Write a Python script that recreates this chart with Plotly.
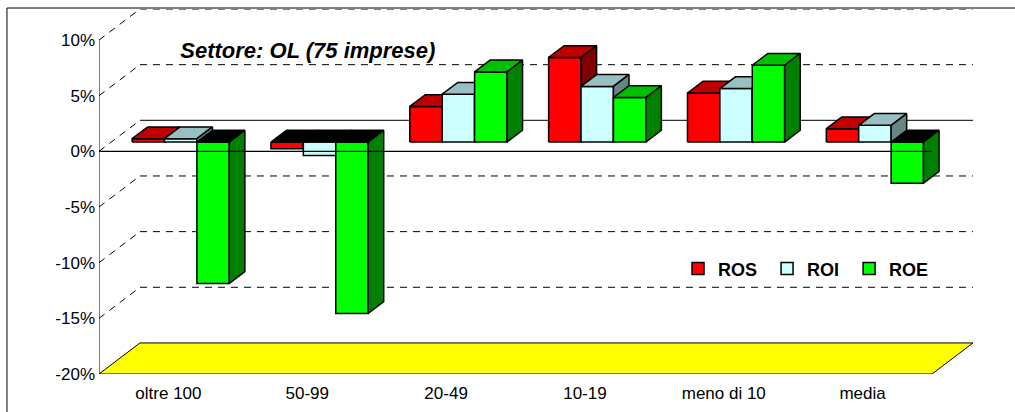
import plotly.graph_objects as go

# Redditività per classe di dimensione
categories = ["oltre 100", "50-99", "20-49", "10-19", "meno di 10", "media"]
ros = [0.3, -0.6, 3.2, 7.6, 4.4, 1.2]
roi = [0.3, -1.2, 4.3, 5.0, 4.8, 1.5]
roe = [-12.7, -15.4, 6.3, 4.0, 6.9, -3.7]
series_names = ["ROS", "ROI", "ROE"]
y_ticks = [-20, -15, -10, -5, 0, 5, 10]
title_text = "Settore: OL (75 imprese)"

series_values = [ros, roi, roe]

# Face colours per series: front, top, right side
FACE_COLORS = [
    ("#FF0000", "#C00000", "#800000"),
    ("#CCFFFF", "#99C0C0", "#668585"),
    ("#00FF00", "#00C000", "#008000"),
]
NEG_TOP = "#000000"

# Oblique projection of the depth axis (x in category units, y in % units)
DX, DY = 0.295, 2.79
F0, FD = 0.30, 0.38          # bar front depth and bar thickness (fraction of depth)
CLUSTER = 0.70
BW = CLUSTER / 3
X_LO, X_HI = -0.5, len(categories) - 0.5
Y_LO, Y_HI = min(y_ticks), max(y_ticks)
FONT = "Arial, Liberation Sans, sans-serif"

fig = go.Figure()


def poly(points, fill, width=1.5):
    xs = [p[0] for p in points] + [points[0][0]]
    ys = [p[1] for p in points] + [points[0][1]]
    fig.add_trace(go.Scatter(
        x=xs, y=ys, mode="lines", fill="toself", fillcolor=fill,
        line=dict(color="black", width=width), hoverinfo="skip",
        showlegend=False))


# Floor of the 3D box
poly([(X_LO, Y_LO), (X_HI, Y_LO), (X_HI + DX, Y_LO + DY), (X_LO + DX, Y_LO + DY)],
     "#FFFF00", width=1)

# Gridlines: diagonal on the left wall plus horizontal on the back wall
gx, gy = [], []
for v in y_ticks[1:]:
    gx += [X_LO, X_LO + DX, None]
    gy += [v, v + DY, None]
    if v != 0:
        gx += [X_LO + DX, X_HI + DX, None]
        gy += [v + DY, v + DY, None]
fig.add_trace(go.Scatter(x=gx, y=gy, mode="lines",
                         line=dict(color="black", width=1, dash="7px,6px"),
                         hoverinfo="skip", showlegend=False))
# solid back line at 0%
fig.add_trace(go.Scatter(x=[X_LO + DX, X_HI + DX], y=[DY, DY], mode="lines",
                         line=dict(color="black", width=1),
                         hoverinfo="skip", showlegend=False))
# value axis line
fig.add_trace(go.Scatter(x=[X_LO, X_LO], y=[Y_LO, Y_HI], mode="lines",
                         line=dict(color="black", width=1),
                         hoverinfo="skip", showlegend=False))


def draw_bar(i, j, v):
    front_c, top_c, side_c = FACE_COLORS[j]
    x0 = i - CLUSTER / 2 + j * BW + DX * F0
    x1 = x0 + BW
    base = DY * F0
    tip = v + base
    dx, dy = DX * FD, DY * FD
    ztop = max(v, 0) + base
    poly([(x0, base), (x1, base), (x1, tip), (x0, tip)], front_c)
    poly([(x0, ztop), (x1, ztop), (x1 + dx, ztop + dy), (x0 + dx, ztop + dy)],
         top_c if v >= 0 else NEG_TOP)
    poly([(x1, base), (x1, tip), (x1 + dx, tip + dy), (x1 + dx, base + dy)], side_c)


# Negative bars hang below the zero plane, so they are painted first
order = []
for neg in (True, False):
    for i in range(len(categories)):
        for j, vals in enumerate(series_values):
            if (vals[i] < 0) == neg:
                order.append((i, j, vals[i]))
for i, j, v in order:
    draw_bar(i, j, v)

# Category axis line at 0% on the front plane
fig.add_trace(go.Scatter(x=[X_LO, X_HI], y=[0, 0], mode="lines",
                         line=dict(color="black", width=1.2),
                         hoverinfo="skip", showlegend=False))

# Legend entries (a non-breaking space widens the gap between entries)
for j, name in enumerate(series_names):
    fig.add_trace(go.Scatter(
        x=[None], y=[None], mode="markers",
        name=f"<b>{name}</b>" + "\u00a0",
        marker=dict(symbol="square", size=12, color=FACE_COLORS[j][0],
                    line=dict(color="black", width=1.5))))

fig.update_layout(
    width=1015, height=412,
    margin=dict(l=99, r=42, t=9, b=38),
    paper_bgcolor="white", plot_bgcolor="white",
    font=dict(family=FONT, color="black", size=16),
    title=dict(text="<b><i>" + title_text + "</i></b>",
               font=dict(family=FONT, size=22, color="black"),
               xref="paper", yref="paper", x=0.093, xanchor="left",
               y=0.887, yanchor="middle"),
    showlegend=True,
    legend=dict(orientation="h", x=0.6625, xanchor="left", y=0.288,
                yanchor="middle", font=dict(family=FONT, size=18, color="black"),
                bgcolor="rgba(0,0,0,0)", itemclick=False, itemwidth=30,
                tracegroupgap=0),
    xaxis=dict(range=[X_LO, X_HI + DX], tickvals=list(range(len(categories))),
               ticktext=categories, showgrid=False, zeroline=False,
               showline=False, ticks="", tickfont=dict(size=17),
               ticklabelstandoff=7, fixedrange=True),
    yaxis=dict(range=[Y_LO, Y_HI + DY], tickvals=y_ticks,
               ticktext=[f"{t}%" for t in y_ticks], showgrid=False,
               zeroline=False, showline=False, ticks="",
               tickfont=dict(size=17), ticklabelstandoff=3, fixedrange=True),
    shapes=[dict(type="rect", xref="paper", yref="paper",
                 x0=-0.1053, x1=1.2, y0=-0.3, y1=1.0027,
                 line=dict(color="black", width=1), layer="below")],
)

fig.write_html("out.html")
